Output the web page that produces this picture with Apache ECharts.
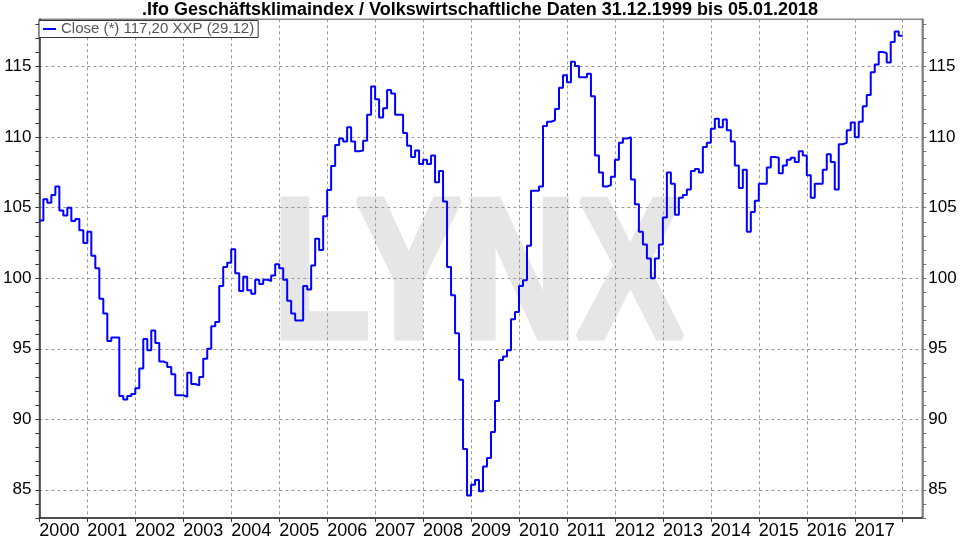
<!DOCTYPE html>
<html><head><meta charset="utf-8">
<script src="https://cdn.jsdelivr.net/npm/echarts@6/dist/echarts.min.js"></script>
<style>html,body{margin:0;padding:0;background:#fff}#c{width:960px;height:540px}</style>
</head><body><div id="c"></div>
<script>
const chartTitle = '.Ifo Geschäftsklimaindex / Volkswirtschaftliche Daten 31.12.1999 bis 05.01.2018';
const seriesName = 'Close (*) 117,20 XXP (29.12)';
const yearLabels = ['2000','2001','2002','2003','2004','2005','2006','2007','2008','2009','2010','2011','2012','2013','2014','2015','2016','2017'];
const yTickLabels = [85, 90, 95, 100, 105, 110, 115];

// monthly values (Jan..Dec)
const v2000 = [104.1, 105.6, 105.35, 105.9, 106.5, 104.8, 104.45, 105.0, 104.05, 104.2, 103.4, 102.5];
const v2001 = [103.3, 101.6, 100.7, 98.55, 97.5, 95.55, 95.8, 95.8, 91.65, 91.4, 91.65, 91.8];
const v2002 = [92.2, 93.6, 95.7, 94.9, 96.3, 95.4, 94.1, 94.0, 93.7, 93.2, 91.7, 91.7];
const v2003 = [91.6, 93.3, 92.5, 92.4, 93.0, 94.3, 95.0, 96.6, 96.9, 99.45, 100.8, 101.1];
const v2004 = [102.05, 100.35, 99.1, 100.1, 99.15, 98.9, 99.9, 99.6, 99.9, 99.8, 100.2, 101.0];
const v2005 = [100.7, 99.9, 98.4, 97.5, 97.0, 97.0, 99.45, 99.2, 100.9, 102.8, 102.0, 104.4];
const v2006 = [106.25, 107.95, 109.45, 109.9, 109.7, 110.7, 109.7, 109.0, 109.05, 109.75, 111.6, 113.6];
const v2007 = [112.7, 111.4, 112.05, 113.35, 113.1, 111.6, 111.6, 110.3, 109.4, 108.6, 109.05, 108.1];
const v2008 = [108.4, 108.1, 108.7, 106.8, 107.6, 105.45, 100.8, 98.8, 96.1, 92.8, 87.9, 84.6];
const v2009 = [85.35, 85.7, 84.9, 86.65, 87.25, 89.1, 91.3, 94.2, 94.45, 94.9, 97.1, 97.6];
const v2010 = [99.45, 99.85, 102.3, 106.2, 106.2, 106.5, 110.8, 111.1, 111.2, 112.0, 113.5, 114.4];
const v2011 = [113.9, 115.35, 115.05, 114.25, 114.25, 114.5, 112.9, 108.7, 107.5, 106.5, 106.6, 107.2];
const v2012 = [108.4, 109.6, 109.9, 110.0, 107.0, 105.25, 103.3, 102.4, 101.4, 100.0, 101.4, 102.4];
const v2013 = [104.3, 107.5, 106.7, 104.5, 105.7, 105.9, 106.3, 107.6, 107.75, 107.5, 109.3, 109.6];
const v2014 = [110.6, 111.3, 110.7, 111.25, 110.5, 109.7, 108.0, 106.4, 107.7, 103.3, 104.7, 105.5];
const v2015 = [106.7, 106.7, 107.85, 108.6, 108.55, 107.45, 108.0, 108.4, 108.55, 108.25, 109.0, 108.7];
const v2016 = [107.3, 105.7, 106.7, 106.7, 107.7, 108.8, 108.25, 106.3, 109.5, 109.6, 110.5, 111.05];
const v2017 = [110.0, 111.1, 112.2, 113.0, 114.6, 115.15, 116.05, 115.95, 115.3, 116.75, 117.5, 117.2];

const monthly = [].concat(v2000, v2001, v2002, v2003, v2004, v2005, v2006, v2007, v2008,
  v2009, v2010, v2011, v2012, v2013, v2014, v2015, v2016, v2017);
// each value holds over its month: point at month start, step to the next month start
const seriesData = monthly.map((v, i) => [i, v]);
seriesData.push([monthly.length, monthly[monthly.length - 1]]);

const yearTicks = yearLabels.map((_, i) => i * 12);
const yMin = 83, yMax = 118.36;
const unitTicks = [];
for (let t = Math.ceil(yMin); t <= yMax; t++) unitTicks.push(t);

const FONT = '"Liberation Sans", Arial, sans-serif';
const chart = echarts.init(document.getElementById('c'), null, {renderer: 'canvas'});

function yAxisDef(pos, lineColor, labelMargin) {
  return {
    type: 'value', min: yMin, max: yMax, position: pos,
    axisLine: {show: true, lineStyle: {color: lineColor, width: 1.5}},
    axisTick: {show: true, length: 4, customValues: unitTicks, lineStyle: {color: lineColor, width: 1}},
    axisLabel: {show: true, customValues: yTickLabels, fontSize: 17, color: '#000', fontFamily: FONT, margin: labelMargin},
    splitLine: {show: false}
  };
}

chart.setOption({
  animation: false,
  backgroundColor: '#fff',
  title: {
    text: chartTitle, left: 'center', top: 1.5, padding: 0,
    textStyle: {fontSize: 18, fontWeight: 'bold', color: '#000', fontFamily: FONT}
  },
  legend: {
    left: 39, top: 20.5, padding: [1, 4, 1, 4], itemGap: 0, itemWidth: 13, itemHeight: 2,
    borderColor: '#333', borderWidth: 1, backgroundColor: '#fff',
    textStyle: {fontSize: 15, color: '#555', fontFamily: FONT},
    data: [{name: seriesName, icon: 'rect'}]
  },
  grid: {
    left: 38.7, right: 37.7, top: 19.3, bottom: 21.7,
    show: true, borderColor: '#888', borderWidth: 1.5, backgroundColor: 'transparent'
  },
  graphic: [{
    type: 'text', z: -10, zlevel: 0, silent: true,
    x: 478, y: 282, scaleX: 0.805, scaleY: 1,
    style: {text: 'LYNX', x: 0, y: 0, align: 'center', verticalAlign: 'middle',
            font: 'bold 198px "Liberation Sans", Arial, sans-serif', fill: '#e6e6e6',
            stroke: '#e6e6e6', lineWidth: 7, lineJoin: 'miter'}
  }],
  xAxis: {
    type: 'value', min: 0, max: 220.9, position: 'bottom',
    axisLine: {show: true, onZero: false, lineStyle: {color: '#333', width: 1.5}},
    axisTick: {show: true, length: 4, customValues: yearTicks.concat([216]), lineStyle: {color: '#333'}},
    axisLabel: {
      customValues: yearTicks, align: 'left', margin: 4, fontSize: 18, color: '#000', fontFamily: FONT,
      formatter: v => yearLabels[Math.round(v / 12)] || ''
    },
    splitLine: {show: true, lineStyle: {color: '#9a9a9a', type: [3, 3], width: 1}}
  },
  yAxis: [
    yAxisDef('left', '#333', 8),
    yAxisDef('right', '#777', 6),
    {
      type: 'value', min: yMin, max: yMax, position: 'left',
      axisLine: {show: false}, axisLabel: {show: false},
      axisTick: {show: false, customValues: yTickLabels},
      splitLine: {show: true, lineStyle: {color: '#9a9a9a', type: [3, 3], width: 1}}
    }
  ],
  series: [{
    name: seriesName, type: 'line', step: 'end', xAxisIndex: 0, yAxisIndex: 0,
    showSymbol: false, symbol: 'none', z: 5,
    lineStyle: {color: '#0000ff', width: 2}, itemStyle: {color: '#0000ff'},
    data: seriesData
  }]
});
</script></body></html>
